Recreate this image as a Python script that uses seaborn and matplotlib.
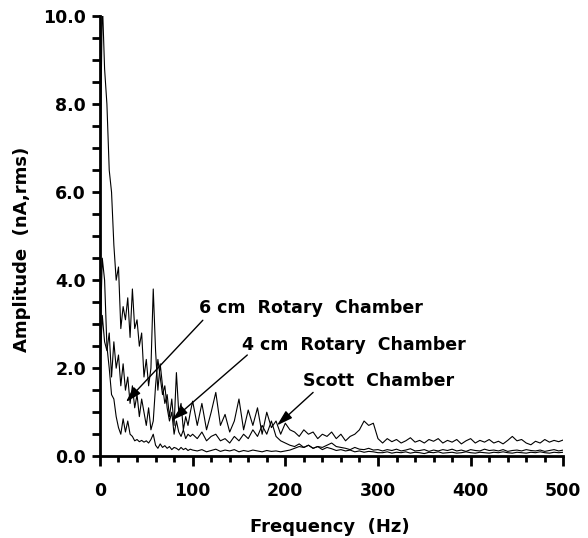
import numpy as np
import matplotlib
matplotlib.use("Agg")
import matplotlib.pyplot as plt
import seaborn as sns
from matplotlib.ticker import MultipleLocator, FormatStrFormatter

# frequency grid (Hz): 2.5 Hz steps below 100 Hz, 5 Hz steps above
freq = np.concatenate([np.arange(0, 100.1, 2.5), np.arange(105, 501, 5)])

# amplitude (nA, rms)
scott = [6.0, 10.4, 8.8, 8.0, 6.5, 6.0, 4.8, 4.0, 4.3, 2.9,
         3.4, 3.1, 3.6, 2.7, 3.8, 2.9, 3.1, 2.5, 2.8, 1.8,
         2.2, 1.6, 2.0, 3.8, 2.4, 1.5, 2.1, 1.6, 1.2, 1.4,
         0.9, 1.3, 0.7, 1.9, 1.0, 1.2, 0.6, 0.9, 0.7, 1.0,
         1.25,
         0.7, 1.2, 0.6, 1.0, 1.45, 0.7, 0.95, 0.55, 0.8, 1.3,
         0.6, 1.05, 0.7, 1.1, 0.5, 1.0, 0.65, 0.8, 0.5, 0.75,
         0.6, 0.55, 0.45, 0.6, 0.5, 0.55, 0.4, 0.5, 0.45, 0.55,
         0.4, 0.5, 0.35, 0.45, 0.5, 0.6, 0.8, 0.7, 0.75, 0.4,
         0.3, 0.4, 0.33, 0.38, 0.3, 0.35, 0.42, 0.32, 0.36, 0.3,
         0.38, 0.34, 0.4, 0.3, 0.36, 0.32, 0.38, 0.28, 0.35, 0.4,
         0.3, 0.36, 0.32, 0.38, 0.3, 0.34, 0.28, 0.36, 0.45, 0.35,
         0.38, 0.3, 0.26, 0.34, 0.3, 0.38, 0.32, 0.36, 0.33, 0.37]

rotary_4cm = [2.0, 3.2, 2.6, 2.4, 2.8, 1.8, 2.6, 2.0, 2.3, 1.6,
              2.1, 1.5, 1.8, 1.2, 1.6, 1.1, 1.4, 0.9, 1.3, 1.0,
              0.7, 1.1, 0.6, 0.8, 1.6, 2.2, 1.8, 1.4, 1.6, 1.1,
              0.8, 1.0, 0.5, 0.8, 0.55, 0.45, 0.6, 0.4, 0.5, 0.45,
              0.5,
              0.4, 0.55, 0.35, 0.45, 0.5, 0.35, 0.4, 0.3, 0.45, 0.35,
              0.5, 0.4, 0.6, 0.45, 0.7, 0.5, 0.8, 0.45, 0.35, 0.3,
              0.25, 0.22, 0.28, 0.2, 0.25, 0.18, 0.22, 0.2, 0.25, 0.3,
              0.22, 0.2, 0.18, 0.15, 0.2, 0.16, 0.15, 0.18, 0.14, 0.15,
              0.12, 0.15, 0.13, 0.16, 0.12, 0.14, 0.17, 0.12, 0.13, 0.15,
              0.11, 0.14, 0.12, 0.15, 0.13, 0.16, 0.12, 0.14, 0.11, 0.15,
              0.13, 0.12, 0.16, 0.13, 0.14, 0.12, 0.15, 0.11, 0.13, 0.14,
              0.12, 0.15, 0.13, 0.12, 0.14, 0.11, 0.13, 0.15, 0.12, 0.14]

rotary_6cm = [2.5, 4.5, 4.0, 2.5, 2.0, 1.4, 1.3, 0.9, 0.65, 0.5,
              0.85, 0.55, 0.8, 0.5, 0.45, 0.35, 0.38, 0.33, 0.36, 0.32,
              0.35, 0.3, 0.38, 0.5, 0.25, 0.18, 0.28, 0.2, 0.24, 0.18,
              0.22, 0.15, 0.2, 0.18, 0.14, 0.2, 0.15, 0.18, 0.13, 0.16,
              0.14,
              0.12, 0.15, 0.1, 0.13, 0.16, 0.11, 0.14, 0.12, 0.15, 0.1,
              0.13, 0.11, 0.14, 0.12, 0.1, 0.13, 0.11, 0.12, 0.1, 0.12,
              0.14, 0.18, 0.22, 0.2, 0.25, 0.18, 0.22, 0.15, 0.2, 0.17,
              0.13, 0.15, 0.12, 0.14, 0.1, 0.12, 0.09, 0.11, 0.1, 0.08,
              0.08, 0.1, 0.07, 0.09, 0.08, 0.1, 0.07, 0.09, 0.08, 0.06,
              0.09, 0.08, 0.1, 0.07, 0.08, 0.09, 0.07, 0.08, 0.1, 0.08,
              0.07, 0.09, 0.08, 0.07, 0.09, 0.08, 0.1, 0.08, 0.07, 0.09,
              0.08, 0.07, 0.09, 0.08, 0.1, 0.08, 0.07, 0.09, 0.08, 0.09]

# label text, arrow tail and arrow tip (Hz, nA)
labels = ["6 cm  Rotary  Chamber", "4 cm  Rotary  Chamber", "Scott  Chamber"]
label_pos = [(107, 3.36), (153, 2.52), (219, 1.72)]
arrow_tail = [(111, 3.09), (159, 2.30), (230, 1.45)]
arrow_tip = [(28, 1.23), (78, 0.82), (191, 0.70)]

sns.set_style("ticks")
plt.rcParams["font.family"] = ["DejaVu Sans"]
plt.rcParams["font.weight"] = "bold"
plt.rcParams["text.color"] = "black"
plt.rcParams["axes.labelcolor"] = "black"
plt.rcParams["xtick.color"] = "black"
plt.rcParams["ytick.color"] = "black"
plt.rcParams["axes.edgecolor"] = "black"

fig = plt.figure(figsize=(5.88, 5.38), dpi=100)
ax = fig.add_axes([0.170, 0.152, 0.788, 0.818])

for vals in (scott, rotary_4cm, rotary_6cm):
    sns.lineplot(x=freq, y=vals, color="black", lw=0.8, ax=ax)

ax.set_xlim(0, 500)
ax.set_ylim(0, 10)
ax.spines[["top", "right"]].set_visible(False)
for s in ("left", "bottom"):
    ax.spines[s].set_linewidth(2)

ax.xaxis.set_major_locator(MultipleLocator(100))
ax.xaxis.set_minor_locator(MultipleLocator(20))
ax.yaxis.set_major_locator(MultipleLocator(2))
ax.yaxis.set_minor_locator(MultipleLocator(0.5))
ax.yaxis.set_major_formatter(FormatStrFormatter("%.1f"))

ax.tick_params(axis="x", which="major", length=7.5, width=2, pad=11, labelsize=12.5)
ax.tick_params(axis="x", which="minor", length=4.5, width=2)
ax.tick_params(axis="y", which="major", length=6, width=2, pad=4, labelsize=12.5)
ax.tick_params(axis="y", which="minor", length=6, width=2)
for t in ax.get_xticklabels() + ax.get_yticklabels():
    t.set_fontweight("bold")

ax.set_xlabel("Frequency  (Hz)", fontsize=13, fontweight="bold", va="center")
ax.xaxis.set_label_coords(0.497, -0.161)
ax.set_ylabel("Amplitude  (nA,rms)", fontsize=13, fontweight="bold", va="center")
ax.yaxis.set_label_coords(-0.168, 0.47)

for text, pos, tail, tip in zip(labels, label_pos, arrow_tail, arrow_tip):
    ax.text(pos[0], pos[1], text, fontsize=12.5, fontweight="bold",
            ha="left", va="center")
    ax.annotate("", xy=tip, xytext=tail,
                arrowprops=dict(arrowstyle="-|>,head_length=0.6,head_width=0.18",
                                color="black", lw=1,
                                mutation_scale=16, shrinkA=0, shrinkB=0))

fig.savefig("out.png", dpi=100, facecolor="white")
